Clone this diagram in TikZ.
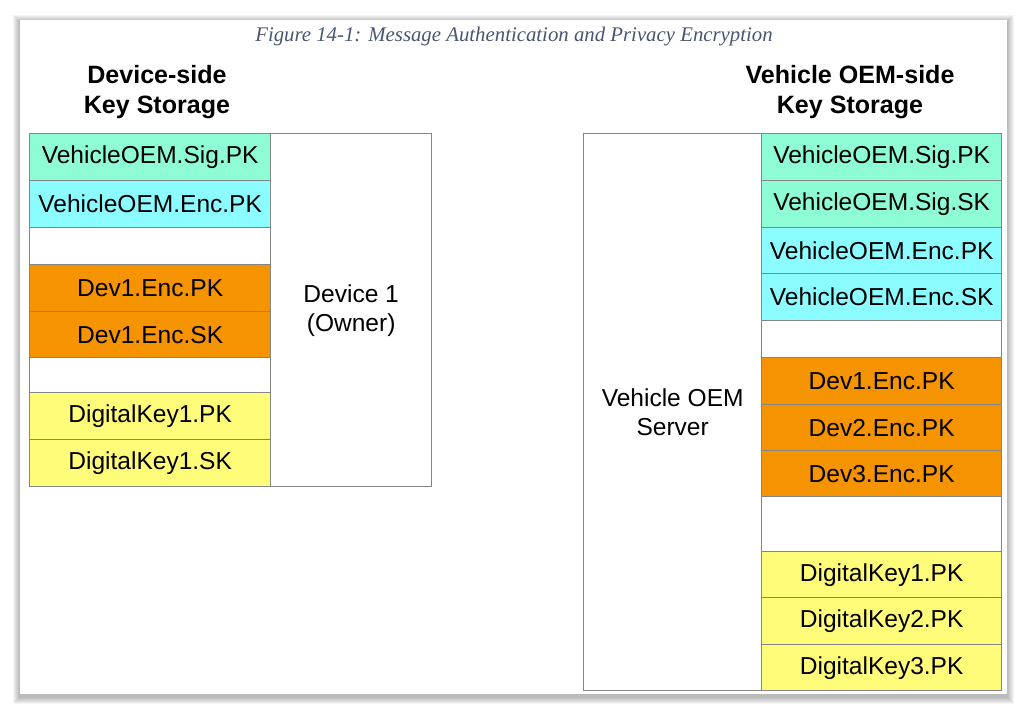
\documentclass[tikz,border=0pt]{standalone}
\usepackage{fontspec}
\setmainfont{Liberation Sans}
\newfontfamily\capfont{Liberation Serif}
\newdimen\pxu
\pxu=0.75pt
\definecolor{sigkey}{HTML}{8EFDD6}
\definecolor{enckey}{HTML}{8BFCFF}
\definecolor{devkey}{HTML}{F59300}
\definecolor{dkkey}{HTML}{FFFC7A}
\definecolor{cellline}{HTML}{858585}
\definecolor{captext}{HTML}{4A5670}
\tikzset{
  keycell/.style={draw=cellline, line width=1pt, inner sep=0pt, anchor=north west,
    minimum width=241\pxu, minimum height=47\pxu, font=\fontsize{18.4}{21.75}\selectfont},
  blankcell/.style={keycell, fill=white},
  ownerbox/.style={keycell, align=center, fill=white},
  heading/.style={align=center, font=\fontsize{18.8}{22.5}\selectfont\bfseries},
}
\begin{document}
\begin{tikzpicture}[x=0.75pt, y=-0.75pt]
  \useasboundingbox (0,0) rectangle (1027,714);
  % page with soft shadow
  \foreach \s in {1,...,7}
    \fill[black, opacity=0.045] (20-\s,22-\s) rectangle (1007+\s,697+\s);
  \fill[white] (20,20) rectangle (1007,694);
  \node[font=\capfont\itshape\fontsize{15.6}{18}\selectfont, text=captext] (caption) at (514,37)
    {Figure 14-1: Message Authentication and Privacy Encryption};

  % device side
  \node[heading] (devhead) at (157,92) {Device-side\\Key Storage};
  \node[ownerbox, minimum width=161\pxu, minimum height=353\pxu] (owner) at (270,133) {Device 1\\(Owner)};
  \node[keycell, fill=sigkey] (dsigpk) at (29,133) {VehicleOEM.Sig.PK};
  \node[keycell, fill=enckey] (dencpk) at (29,180) {VehicleOEM.Enc.PK};
  \node[blankcell, minimum height=37\pxu] (dgap1) at (29,227) {};
  \node[keycell, fill=devkey] (ddevpk) at (29,264) {Dev1.Enc.PK};
  \node[keycell, fill=devkey] (ddevsk) at (29,311) {Dev1.Enc.SK};
  \node[blankcell, minimum height=35\pxu] (dgap2) at (29,357) {};
  \node[keycell, fill=dkkey] (ddkpk) at (29,392) {DigitalKey1.PK};
  \node[keycell, fill=dkkey] (ddksk) at (29,439) {DigitalKey1.SK};

  % vehicle OEM side
  \node[heading] (oemhead) at (850,92) {Vehicle OEM-side\\Key Storage};
  \node[ownerbox, minimum width=178\pxu, minimum height=557\pxu] (server) at (583,133) {Vehicle OEM\\Server};
  \node[keycell, fill=sigkey, minimum width=240\pxu] (osigpk) at (761,133) {VehicleOEM.Sig.PK};
  \node[keycell, fill=sigkey, minimum width=240\pxu] (osigsk) at (761,180) {VehicleOEM.Sig.SK};
  \node[keycell, fill=enckey, minimum width=240\pxu, minimum height=46\pxu] (oencpk) at (761,227) {VehicleOEM.Enc.PK};
  \node[keycell, fill=enckey, minimum width=240\pxu] (oencsk) at (761,273) {VehicleOEM.Enc.SK};
  \node[blankcell, minimum width=240\pxu, minimum height=37\pxu] (ogap1) at (761,320) {};
  \node[keycell, fill=devkey, minimum width=240\pxu] (odev1) at (761,357) {Dev1.Enc.PK};
  \node[keycell, fill=devkey, minimum width=240\pxu, minimum height=46\pxu] (odev2) at (761,404) {Dev2.Enc.PK};
  \node[keycell, fill=devkey, minimum width=240\pxu, minimum height=46\pxu] (odev3) at (761,450) {Dev3.Enc.PK};
  \node[blankcell, minimum width=240\pxu, minimum height=55\pxu] (ogap2) at (761,496) {};
  \node[keycell, fill=dkkey, minimum width=240\pxu, minimum height=46\pxu] (odk1) at (761,551) {DigitalKey1.PK};
  \node[keycell, fill=dkkey, minimum width=240\pxu] (odk2) at (761,597) {DigitalKey2.PK};
  \node[keycell, fill=dkkey, minimum width=240\pxu, minimum height=46\pxu] (odk3) at (761,644) {DigitalKey3.PK};
\end{tikzpicture}
\end{document}
